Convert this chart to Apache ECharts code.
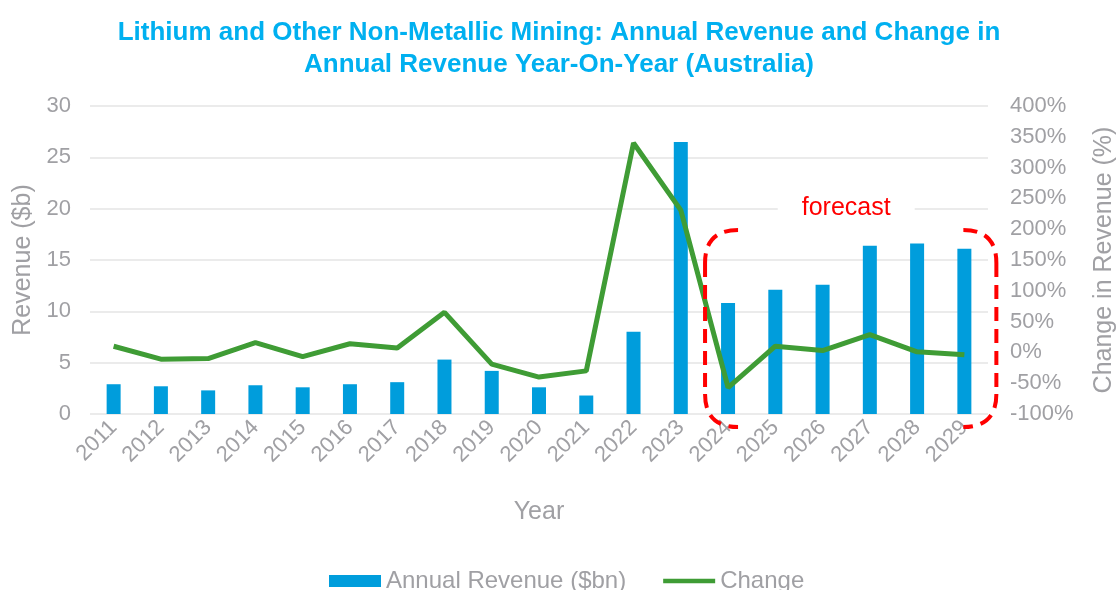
<!DOCTYPE html>
<html>
<head>
<meta charset="utf-8">
<script src="https://cdn.jsdelivr.net/npm/echarts@6/dist/echarts.min.js"></script>
<style>
  html, body { margin: 0; padding: 0; background: #fff; }
  #chart { width: 1118px; height: 590px; }
</style>
</head>
<body>
<div id="chart"></div>
<script>
var years = ['2011', '2012', '2013', '2014', '2015', '2016', '2017', '2018', '2019', '2020',
             '2021', '2022', '2023', '2024', '2025', '2026', '2027', '2028', '2029'];
var revenue = [2.9, 2.7, 2.3, 2.8, 2.6, 2.9, 3.1, 5.3, 4.2, 2.6,
               1.8, 8.0, 26.5, 10.8, 12.1, 12.6, 16.4, 16.6, 16.1];
var change = [10, -11, -10, 16, -7, 14, 7, 65, -19, -40,
              -30, 340, 231, -57, 10, 3, 29, 1, -4];
var forecastFrom = '2024';
var forecastTo = '2029';

var grey = '#A0A0A4';
var font = 'Liberation Sans, Arial, sans-serif';

var dom = document.getElementById('chart');
var myChart = echarts.init(dom);

var option = {
    backgroundColor: '#fff',
    animation: false,
    textStyle: { fontFamily: font },
    title: {
        text: 'Lithium and Other Non-Metallic Mining: Annual Revenue and Change in\nAnnual Revenue Year-On-Year (Australia)',
        left: 'center',
        top: 12,
        textStyle: { color: '#00B0F0', fontSize: 26, fontWeight: 'bold', lineHeight: 32, fontFamily: font }
    },
    legend: {
        top: 564,
        left: 324,
        itemGap: 37,
        itemWidth: 52,
        itemHeight: 12,
        textStyle: { color: grey, fontSize: 24, fontFamily: font },
        data: [
            { name: 'Annual Revenue ($bn)', icon: 'rect' },
            { name: 'Change', icon: 'path://M0 0 L56 0 L56 5 L0 5 Z' }
        ]
    },
    grid: { left: 90, right: 130, top: 106, bottom: 176, outerBoundsMode: 'none' },
    xAxis: {
        type: 'category',
        data: years,
        name: 'Year',
        nameLocation: 'middle',
        nameGap: 86,
        nameTextStyle: { color: grey, fontSize: 25 },
        axisLine: { show: false },
        axisTick: { show: false },
        axisLabel: { rotate: 45, color: grey, fontSize: 22, margin: 10, interval: 0 }
    },
    yAxis: [
        {
            type: 'value',
            min: 0, max: 30, interval: 5,
            name: 'Revenue ($b)',
            nameLocation: 'middle',
            nameRotate: 90,
            nameGap: 50,
            nameTextStyle: { color: grey, fontSize: 25 },
            axisLabel: { color: grey, fontSize: 22, margin: 19 },
            splitLine: { lineStyle: { color: '#E4E4E4', width: 1.5 } }
        },
        {
            type: 'value',
            min: -100, max: 400, interval: 50,
            name: 'Change in Revenue (%)',
            nameLocation: 'middle',
            nameRotate: 90,
            nameGap: 104,
            nameTextStyle: { color: grey, fontSize: 25 },
            axisLabel: { color: grey, fontSize: 22, margin: 22, formatter: '{value}%' },
            splitLine: { show: false }
        }
    ],
    series: [
        {
            name: 'Annual Revenue ($bn)',
            type: 'bar',
            data: revenue,
            barWidth: 14,
            itemStyle: { color: '#009DDC' }
        },
        {
            name: 'Change',
            type: 'line',
            yAxisIndex: 1,
            data: change,
            symbol: 'none',
            lineStyle: { color: '#3F9C35', width: 5 },
            itemStyle: { color: '#3F9C35' }
        }
    ]
};

myChart.setOption(option, true);

// forecast bracket, placed from the category axis
var xa = myChart.convertToPixel({ xAxisIndex: 0 }, forecastFrom);
var xb = myChart.convertToPixel({ xAxisIndex: 0 }, forecastTo);
var boxTop = 230, boxBottom = 427, rad = 33;
var xLeft = xa - 23, xRight = xb + 32;

function dashStyle() {
    return { stroke: '#FF0000', fill: 'none', lineWidth: 4, lineDash: [14, 8] };
}

function bracket(x, dir) {
    // dir = 1 opens to the right, -1 opens to the left
    return [
        { type: 'bezierCurve', shape: { x1: x + dir * rad, y1: boxTop, cpx1: x, cpy1: boxTop, x2: x, y2: boxTop + rad }, style: dashStyle(), z: 100 },
        { type: 'line', shape: { x1: x, y1: boxTop + rad, x2: x, y2: boxBottom - rad }, style: dashStyle(), z: 100 },
        { type: 'bezierCurve', shape: { x1: x, y1: boxBottom - rad, cpx1: x, cpy1: boxBottom, x2: x + dir * rad, y2: boxBottom }, style: dashStyle(), z: 100 }
    ];
}

myChart.setOption({
    graphic: bracket(xLeft, 1).concat(bracket(xRight, -1)).concat([
        {
            type: 'text',
            x: (xa + xb) / 2,
            y: 208,
            style: {
                text: 'forecast',
                fill: '#FF0000',
                font: '25px ' + font,
                align: 'center',
                verticalAlign: 'middle',
                backgroundColor: '#fff',
                padding: [2, 24]
            },
            z: 100
        }
    ])
});
</script>
</body>
</html>
